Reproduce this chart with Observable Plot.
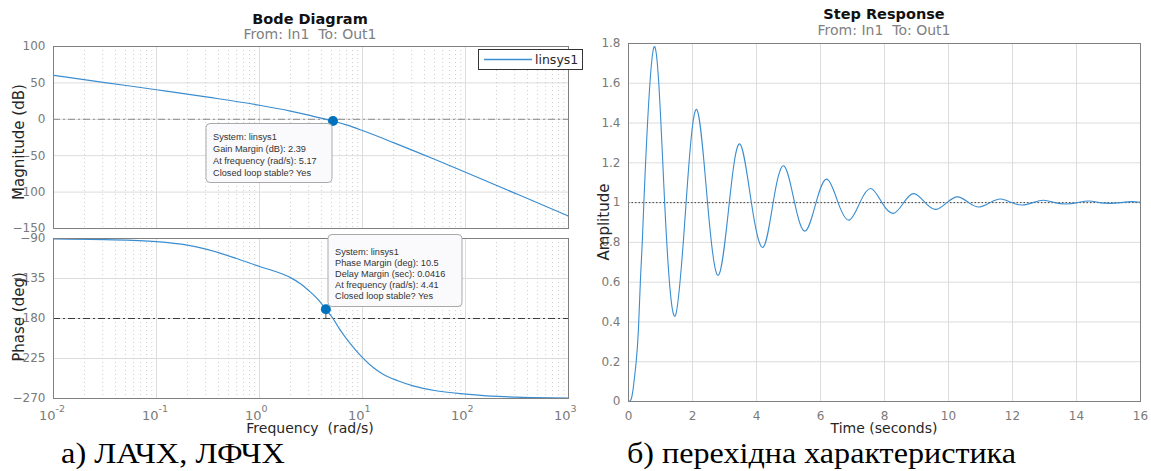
<!DOCTYPE html>
<html><head><meta charset="utf-8">
<script src="https://cdn.jsdelivr.net/npm/d3@7"></script>
<script src="https://cdn.jsdelivr.net/npm/@observablehq/plot@0.6"></script>
<style>
body{margin:0;background:#fff;}
#root{position:relative;width:1151px;height:471px;overflow:hidden;background:#fff;}
.pnl{position:absolute;}
#overlay{position:absolute;left:0;top:0;pointer-events:none;}
</style></head>
<body><div id="root"></div>
<script>
// ---------- data ----------
const magFreq = [0.01, 0.0316, 0.1, 0.316, 1, 2, 3, 4.41, 5.17, 7, 10, 20, 31.6, 50, 100, 316, 1000];
const magDb   = [60.5, 50.5, 40.6, 30.4, 19.3, 11.3, 5.8, 0, -2.39, -7.7, -15.4, -32, -43.3, -54.9, -72.7, -102.7, -133];
const phaseFreq = [0.01, 0.0316, 0.1, 0.2, 0.316, 0.6, 1, 1.5, 2, 2.5, 3, 3.6, 4.41, 5.17, 6, 7, 8.5, 10, 13, 16, 22, 31.6, 50, 100, 316, 1000];
const phaseDeg  = [-90.4, -91.2, -93.5, -97.5, -102.5, -112.5, -121.5, -128, -134, -141, -148.5, -157, -169.5, -180, -192, -203, -215, -224, -236, -243, -250, -256, -261, -265, -268.5, -269.5];
const gainMargin = {f: 5.17, v: -2.39};
const phaseMargin = {f: 4.41, v: -169.5};
const stepT = [0, 0.08, 0.15, 0.24, 0.31, 0.37, 0.43, 0.48, 0.80, 1.13, 1.46, 1.80, 2.13, 2.47, 2.81, 3.15, 3.48, 3.84, 4.20, 4.52, 4.85, 5.19, 5.52, 5.86, 6.20, 6.55, 6.89, 7.23, 7.57, 7.92, 8.27, 8.60, 8.92, 9.27, 9.61, 9.95, 10.29, 10.63, 10.96, 11.30, 11.63, 11.97, 12.30, 12.64, 12.97, 13.32, 13.68, 14.03, 14.38, 14.72, 15.05, 15.38, 15.70, 16.00];
const stepY = [0, 0.01, 0.07, 0.2, 0.36, 0.6, 0.8, 1.0, 1.783, 1.0, 0.43, 1.0, 1.468, 1.0, 0.635, 1.0, 1.295, 1.0, 0.775, 1.0, 1.185, 1.0, 0.857, 1.0, 1.118, 1.0, 0.912, 1.0, 1.071, 1.0, 0.946, 1.0, 1.045, 1.0, 0.966, 1.0, 1.029, 1.0, 0.978, 1.0, 1.018, 1.0, 0.988, 1.0, 1.012, 1.0, 0.993, 1.0, 1.008, 1.0, 0.996, 1.0, 1.005, 1.002];
const magTicks = [-150, -100, -50, 0, 50, 100];
const phaseTicks = [-270, -225, -180, -135, -90];
const decades = [0.01, 0.1, 1, 10, 100, 1000];
const decadeExp = ["-2", "-1", "0", "1", "2", "3"];
const stepXTicks = [0, 2, 4, 6, 8, 10, 12, 14, 16];
const stepYTicks = [0, 0.2, 0.4, 0.6, 0.8, 1, 1.2, 1.4, 1.6, 1.8];
const gmText = ["System: linsys1", "Gain Margin (dB): 2.39", "At frequency (rad/s): 5.17", "Closed loop stable? Yes"];
const pmText = ["System: linsys1", "Phase Margin (deg): 10.5", "Delay Margin (sec): 0.0416", "At frequency (rad/s): 4.41", "Closed loop stable? Yes"];

// ---------- style ----------
const blue = "#3a8dd0";
const dotBlue = "#0072BD";
const gridC = "#dcdcdc";
const minorC = "#cfcfcf";
const frameC = "#808080";
const baseStyle = {background: "transparent", color: "#7a7a7a", fontFamily: "DejaVu Sans", fontSize: "12px", overflow: "visible"};
const root = document.getElementById("root");
function place(node, left, top) {
  const d = document.createElement("div");
  d.className = "pnl"; d.style.left = left + "px"; d.style.top = top + "px";
  d.appendChild(node); root.appendChild(d);
}
const minorX = d3.scaleLog().domain([0.01, 1000]).ticks()
  .filter(d => Math.abs(Math.log10(d) - Math.round(Math.log10(d))) > 1e-6);

const magData = magFreq.map((f, i) => ({f, v: magDb[i]}));
const phaseData = phaseFreq.map((f, i) => ({f, v: phaseDeg[i]}));
const stepData = stepT.map((t, i) => ({t, v: stepY[i]}));

// ---------- magnitude ----------
const magPlot = Plot.plot({
  width: 600, height: 238, marginLeft: 53, marginRight: 32, marginTop: 46, marginBottom: 10,
  style: baseStyle,
  x: {type: "log", domain: [0.01, 1000], axis: null},
  y: {domain: [-150, 100]},
  marks: [
    Plot.ruleX(decades, {stroke: gridC}),
    Plot.ruleY(magTicks, {stroke: gridC}),
    Plot.ruleX(minorX, {stroke: minorC, strokeDasharray: "1,3"}),
    Plot.ruleY([0], {stroke: "#8c8c8c", strokeDasharray: "7,3,2,3"}),
    Plot.line(magData, {x: "f", y: "v", stroke: blue, strokeWidth: 1.2, curve: "monotone-x"}),
    Plot.ruleX([gainMargin], {x: "f", y1: "v", y2: 0, stroke: "#555"}),
    Plot.dot([gainMargin], {x: "f", y: "v", r: 5, fill: dotBlue}),
    Plot.frame({stroke: frameC}),
    Plot.axisY({ticks: magTicks, tickSize: 0, tickPadding: 8, label: null})
  ]
});
place(magPlot, 0, 0);

// ---------- phase ----------
const phasePlot = Plot.plot({
  width: 600, height: 230, marginLeft: 53, marginRight: 32, marginTop: 10, marginBottom: 60,
  style: baseStyle,
  x: {type: "log", domain: [0.01, 1000], axis: null},
  y: {domain: [-270, -90]},
  marks: [
    Plot.ruleX(decades, {stroke: gridC}),
    Plot.ruleY(phaseTicks, {stroke: gridC}),
    Plot.ruleX(minorX, {stroke: minorC, strokeDasharray: "1,3"}),
    Plot.ruleY([-180], {stroke: "#3c3c3c", strokeDasharray: "7,3,2,3"}),
    Plot.line(phaseData, {x: "f", y: "v", stroke: blue, strokeWidth: 1.2, curve: "monotone-x"}),
    Plot.ruleX([phaseMargin], {x: "f", y1: "v", y2: -180, stroke: "#555"}),
    Plot.dot([phaseMargin], {x: "f", y: "v", r: 5, fill: dotBlue}),
    Plot.frame({stroke: frameC}),
    Plot.axisY({ticks: phaseTicks, tickSize: 0, tickPadding: 8, label: null}),
    Plot.text(decades, {x: d => d, text: () => "10", frameAnchor: "bottom", textAnchor: "end", dx: 2, dy: 21, fill: "#7a7a7a", fontSize: 13}),
    Plot.text(decades, {x: d => d, text: (d, i) => decadeExp[i], frameAnchor: "bottom", textAnchor: "start", dx: 2, dy: 13, fill: "#7a7a7a", fontSize: 9.5})
  ]
});
place(phasePlot, 0, 228);

// ---------- step ----------
const stepPlot = Plot.plot({
  width: 591, height: 440, marginLeft: 68, marginRight: 11, marginTop: 43, marginBottom: 39,
  style: baseStyle,
  x: {domain: [0, 16]},
  y: {domain: [0, 1.8]},
  marks: [
    Plot.ruleX(stepXTicks, {stroke: gridC}),
    Plot.ruleY(stepYTicks, {stroke: gridC}),
    Plot.ruleY([1], {stroke: "#444", strokeDasharray: "1.5,2"}),
    Plot.line(stepData, {x: "t", y: "v", stroke: blue, strokeWidth: 1.1, curve: "natural"}),
    Plot.frame({stroke: frameC}),
    Plot.axisY({ticks: stepYTicks, tickSize: 0, tickPadding: 8, label: null, tickFormat: d => String(d)}),
    Plot.axisX({ticks: stepXTicks, tickSize: 0, tickPadding: 10, label: null})
  ]
});
place(stepPlot, 560, 0);

// ---------- overlay texts ----------
const NS = "http://www.w3.org/2000/svg";
const ov = document.createElementNS(NS, "svg");
ov.setAttribute("id", "overlay"); ov.setAttribute("width", 1151); ov.setAttribute("height", 471);
root.appendChild(ov);
function el(tag, attrs, text) {
  const e = document.createElementNS(NS, tag);
  for (const k in attrs) e.setAttribute(k, attrs[k]);
  if (text !== undefined) e.textContent = text;
  ov.appendChild(e); return e;
}
function ctext(x, y, s, attrs) {
  return el("text", Object.assign({x, y, "text-anchor": "middle", "dominant-baseline": "central",
    "font-family": "DejaVu Sans", style: "white-space:pre"}, attrs), s);
}
// titles
ctext(310, 19, "Bode Diagram", {"font-weight": "bold", "font-size": 14.5, fill: "#111"});
ctext(310, 34, "From: In1  To: Out1", {"font-size": 14, fill: "#808080"});
ctext(884, 14, "Step Response", {"font-weight": "bold", "font-size": 14.5, fill: "#111"});
ctext(884, 30, "From: In1  To: Out1", {"font-size": 14, fill: "#808080"});
// axis labels
ctext(310, 428, "Frequency  (rad/s)", {"font-size": 14, fill: "#262626"});
ctext(884, 428, "Time (seconds)", {"font-size": 14, fill: "#262626"});
ctext(0, 0, "Magnitude (dB)", {"font-size": 15, fill: "#262626", transform: "translate(19,142) rotate(-90)"});
ctext(0, 0, "Phase (deg)", {"font-size": 15, fill: "#262626", transform: "translate(19,317) rotate(-90)"});
ctext(0, 0, "Amplitude", {"font-size": 15, fill: "#262626", transform: "translate(604,222) rotate(-90)"});
// captions
el("text", {x: 61, y: 463, "font-family": "Liberation Serif", "font-size": 30, fill: "#000", textLength: 224, lengthAdjust: "spacingAndGlyphs"}, "а) ЛАЧХ, ЛФЧХ");
el("text", {x: 627, y: 463, "font-family": "Liberation Serif", "font-size": 30, fill: "#000", textLength: 389, lengthAdjust: "spacingAndGlyphs"}, "б) перехідна характеристика");
// legend
el("rect", {x: 478.5, y: 49.5, width: 104, height: 20, fill: "#fff", stroke: "#333", "stroke-width": 1});
el("line", {x1: 484, x2: 532, y1: 59.5, y2: 59.5, stroke: blue, "stroke-width": 1.3});
el("text", {x: 535, y: 64, "font-family": "DejaVu Sans", "font-size": 12.5, fill: "#262626"}, "linsys1");
// data tips
el("rect", {x: 206, y: 123.5, width: 126, height: 59, rx: 4, fill: "#fafafc", stroke: "#a9a9a9", "stroke-width": 1});
gmText.forEach((s, i) => el("text", {x: 213, y: 139.5 + i * 12.2, "font-family": "Liberation Sans", "font-size": 9.2, fill: "#333"}, s));
el("rect", {x: 328, y: 234.5, width: 134, height: 72, rx: 4, fill: "#fafafc", stroke: "#a9a9a9", "stroke-width": 1});
pmText.forEach((s, i) => el("text", {x: 335, y: 254.5 + i * 11.1, "font-family": "Liberation Sans", "font-size": 9.2, fill: "#333"}, s));
</script>
</body></html>
